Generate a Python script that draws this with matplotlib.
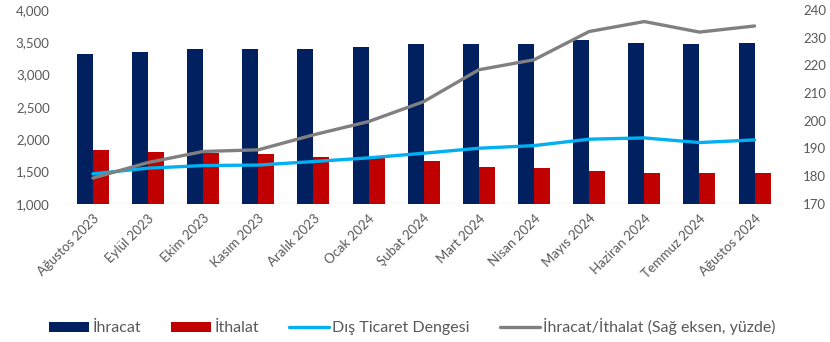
import matplotlib
matplotlib.use("Agg")
import matplotlib.pyplot as plt
import numpy as np

plt.rcParams['font.family'] = ['Lato', 'DejaVu Sans']

months = ["Ağustos 2023", "Eylül 2023", "Ekim 2023", "Kasım 2023", "Aralık 2023",
          "Ocak 2024", "Şubat 2024", "Mart 2024", "Nisan 2024", "Mayıs 2024",
          "Haziran 2024", "Temmuz 2024", "Ağustos 2024"]
ihracat = [3314, 3354, 3400, 3400, 3400, 3419, 3470, 3470, 3470, 3535, 3493, 3470, 3493]
ithalat = [1835, 1804, 1793, 1773, 1731, 1706, 1665, 1577, 1561, 1515, 1484, 1484, 1484]
dis_ticaret_dengesi = [1464, 1552, 1592, 1600, 1654, 1711, 1783, 1860, 1901, 2000, 2020, 1948, 1989]
ihracat_ithalat_orani = [179.3, 184.9, 188.9, 189.5, 194.9, 199.7, 206.9, 218.4, 222.0,
                         232.2, 235.8, 232.0, 234.2]

NAVY = "#002060"
RED = "#C00000"
CYAN = "#00B0F0"
GRAY = "#808080"
TXT = "#595959"

fig = plt.figure(figsize=(8.3, 3.42), dpi=100)
ax = fig.add_axes([0.080, 0.404, 0.861, 0.567])
ax2 = ax.twinx()

x = np.arange(len(months))
w = 0.29
ax.bar(x - w / 2, ihracat, width=w, color=NAVY, label="İhracat", zorder=2)
ax.bar(x + w / 2, ithalat, width=w, color=RED, label="İthalat", zorder=2)
ax.plot(x, dis_ticaret_dengesi, color=CYAN, lw=2.4, label="Dış Ticaret Dengesi",
        solid_capstyle="round", zorder=3)
ax2.plot(x, ihracat_ithalat_orani, color=GRAY, lw=2.4,
         label="İhracat/İthalat (Sağ eksen, yüzde)", solid_capstyle="round")

ax.set_xlim(-0.48, 12.48)
ax.set_ylim(1000, 4000)
ax.set_yticks(np.arange(1000, 4001, 500))
ax.set_yticklabels([f"{v:,}" for v in range(1000, 4001, 500)])
ax2.set_ylim(170, 240)
ax2.set_yticks(np.arange(170, 241, 10))

ax.set_xticks(x)
ax.set_xticklabels(months, rotation=45, ha="right", rotation_mode="anchor")

for a in (ax, ax2):
    for s in ("top", "left", "right", "bottom"):
        a.spines[s].set_visible(False)
    a.tick_params(axis="both", length=0, colors=TXT, labelsize=9.5)
ax.axhline(1000, color="#D9D9D9", lw=1, zorder=1)
ax.tick_params(axis="x", pad=6)
ax.tick_params(axis="y", pad=12)
ax2.tick_params(axis="y", pad=16)

h1, l1 = ax.get_legend_handles_labels()
h2, l2 = ax2.get_legend_handles_labels()
handles = [h1[1], h1[2], h1[0], h2[0]]
labels = [l1[1], l1[2], l1[0], l2[0]]
leg = fig.legend(handles, labels, loc="center", bbox_to_anchor=(0.497, 0.044), ncol=4,
                 frameon=False, fontsize=11.5, handlelength=2.5, handleheight=0.56,
                 columnspacing=1.9, handletextpad=0.2, labelcolor=TXT)

fig.savefig("out.png", dpi=100)
